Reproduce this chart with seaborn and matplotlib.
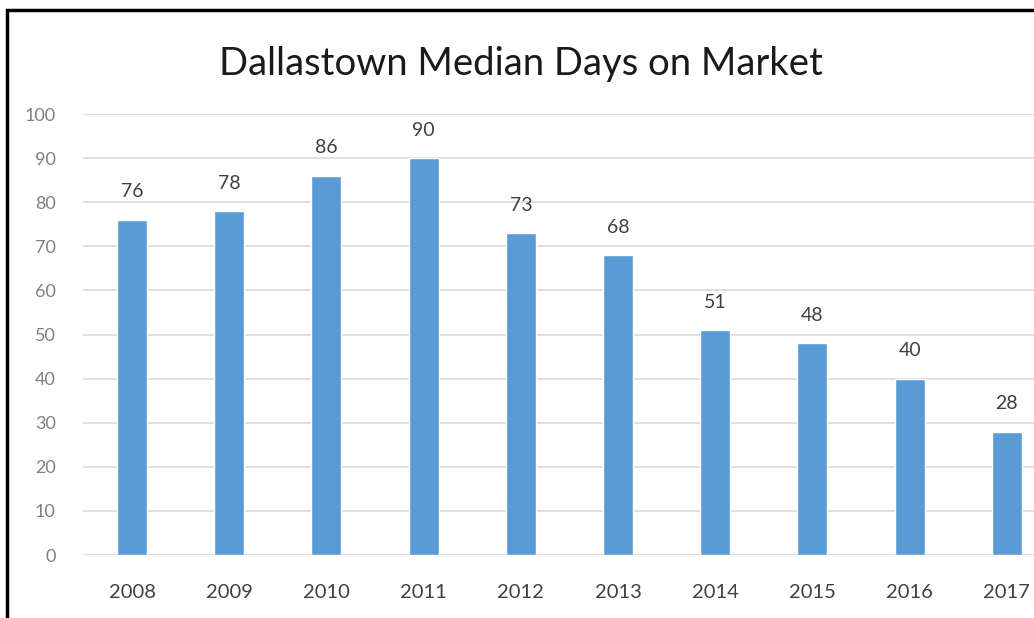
import matplotlib
matplotlib.use("Agg")
import matplotlib.pyplot as plt
import seaborn as sns
import pandas as pd
from matplotlib.patches import Rectangle

years = ["2008", "2009", "2010", "2011", "2012", "2013", "2014", "2015", "2016", "2017"]
median_days = [76, 78, 86, 90, 73, 68, 51, 48, 40, 28]
y_ticks = [0, 10, 20, 30, 40, 50, 60, 70, 80, 90, 100]
title = "Dallastown Median Days on Market"

BAR_COLOR = "#5B9BD5"

sns.set_style("white")
plt.rcParams["font.family"] = ["Lato", "DejaVu Sans"]

df = pd.DataFrame({"year": years, "days": median_days})

fig = plt.figure(figsize=(10.34, 6.18), dpi=100)
# plot area runs past the right edge, like the cropped original
ax = fig.add_axes([0.0807, 0.1019, 0.940, 0.7136])

sns.barplot(data=df, x="year", y="days", color=BAR_COLOR, saturation=1,
            width=0.31, ax=ax, zorder=3)

ax.set_ylim(0, 100)
ax.set_xlim(-0.5, len(years) - 0.5)
ax.set_yticks(y_ticks)
ax.yaxis.grid(True, color="#D9D9D9", linewidth=1.2, zorder=0)
ax.set_axisbelow(True)
for s in ax.spines.values():
    s.set_visible(False)
ax.tick_params(axis="both", length=0)
ax.tick_params(axis="y", labelsize=13, labelcolor="#7F7F7F", pad=20)
ax.tick_params(axis="x", labelsize=14.5, labelcolor="#404040", pad=21)
ax.set_xlabel("")
ax.set_ylabel("")

for i, v in enumerate(median_days):
    ax.annotate(str(v), (i, v), xytext=(0, 14), textcoords="offset points",
                ha="center", va="bottom", fontsize=14, color="#404040")

fig.text(0.504, 0.897, title, ha="center", va="center", fontsize=27.5, color="#1A1A1A")

# black frame, cut off on right and bottom
fig.patches.append(Rectangle((7 / 1034, -0.1), 1.2, 1.1 - 10 / 618,
                             transform=fig.transFigure, fill=False,
                             edgecolor="black", linewidth=2.5, zorder=10))

fig.savefig("out.png", dpi=100)
